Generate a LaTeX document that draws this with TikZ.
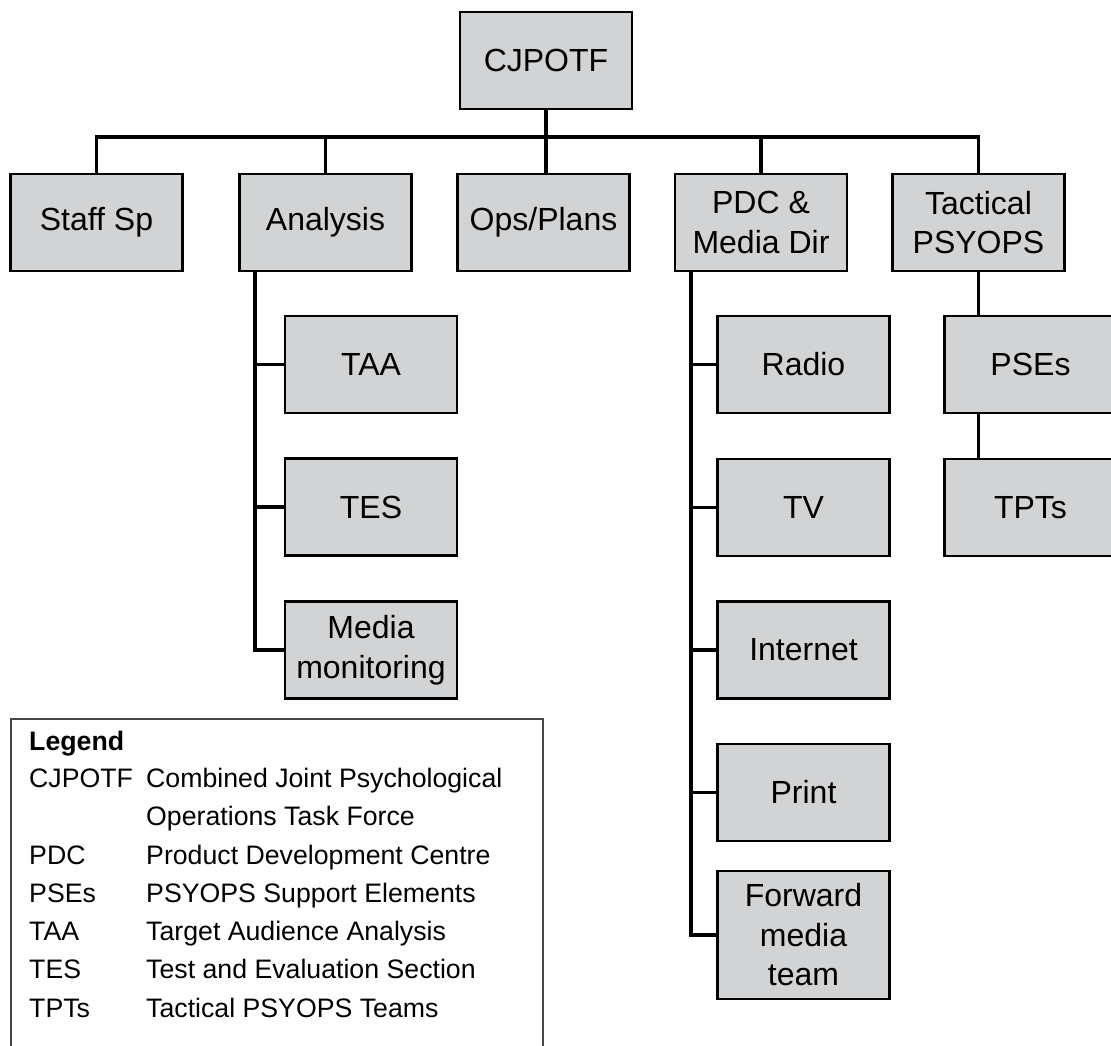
\documentclass[tikz,border=0pt]{standalone}
\usepackage{fontspec}
\setmainfont{Liberation Sans}
\definecolor{boxfill}{RGB}{209,211,213}
\definecolor{legline}{RGB}{70,70,70}
\begin{document}
\begin{tikzpicture}[x=1pt,y=-1pt,
  org/.style={draw=black, line width=2.6pt, fill=boxfill, minimum width=172pt, minimum height=97pt,
    inner sep=0pt, align=center, font=\fontsize{32}{39.5}\selectfont},
  conn/.style={line width=3.6pt, line cap=rect},
  legtext/.style={anchor=base west, inner sep=0pt, font=\fontsize{26.7}{32}\selectfont}]
\useasboundingbox (0,0) rectangle (1111,1045);
\clip (0,0) rectangle (1111,1045);
% top
\node[org] (cj) at (546,60.5) {CJPOTF};
% first row
\node[org] (staff) at (96.5,222.5) {Staff Sp};
\node[org] (ana) at (325.5,222.5) {Analysis};
\node[org] (ops) at (543.5,222.5) {Ops/Plans};
\node[org] (pdc) at (761,222.5) {PDC \&\\Media Dir};
\node[org] (tac) at (978.5,222.5) {Tactical\\PSYOPS};
% analysis branch
\node[org] (taa) at (371,364.5) {TAA};
\node[org] (tes) at (371,507) {TES};
\node[org] (mm) at (371,650) {Media\\monitoring};
% PDC branch
\node[org] (radio) at (803.5,364.5) {Radio};
\node[org] (tv) at (803.5,507.5) {TV};
\node[org] (inet) at (803.5,650) {Internet};
\node[org] (print) at (803.5,792.5) {Print};
\node[org, minimum height=128pt] (fwd) at (803.5,935) {Forward\\media\\team};
% tactical branch
\node[org] (pses) at (1030.5,364.5) {PSEs};
\node[org] (tpts) at (1030.5,507.5) {TPTs};
% connectors
\coordinate (bus) at (0,137);
\draw[conn] (cj.south) -- (cj.south |- ops.north);
\draw[conn, line cap=butt] (staff.north) -- (staff.north |- bus) -- (tac.north |- bus) -- (tac.north);
\draw[conn, line cap=butt] (ana.north |- bus) -- (ana.north);
\draw[conn, line cap=butt] (pdc.north |- bus) -- (pdc.north);
\coordinate (atrunk) at ([xshift=17pt]ana.south west);
\draw[conn, line cap=butt] (atrunk) |- (mm.west);
\draw[conn, line cap=butt] (atrunk |- taa.west) -- (taa.west);
\draw[conn, line cap=butt] (atrunk |- tes.west) -- (tes.west);
\coordinate (ptrunk) at ([xshift=17pt]pdc.south west);
\draw[conn, line cap=butt] (ptrunk) |- (fwd.west);
\draw[conn, line cap=butt] (ptrunk |- radio.west) -- (radio.west);
\draw[conn, line cap=butt] (ptrunk |- tv.west) -- (tv.west);
\draw[conn, line cap=butt] (ptrunk |- inet.west) -- (inet.west);
\draw[conn, line cap=butt] (ptrunk |- print.west) -- (print.west);
\draw[conn, line cap=butt] (tac.south) -- (tac.south |- pses.north);
\draw[conn, line cap=butt] (tac.south |- pses.south) -- (tac.south |- tpts.north);
% legend
\coordinate (legTL) at (11,719);
\coordinate (legTR) at (543,719);
\draw[draw=legline, line width=1.4pt] (legTL |- 0,1050) -- (legTL) -- (legTR) -- (legTR |- 0,1050);
\node[legtext, font=\fontsize{26.7}{32}\selectfont\bfseries] (lgh) at (29,750) {Legend};
\node[legtext] (a1) at (29,787) {CJPOTF};
\node[legtext] (d1) at (146,787) {Combined Joint Psychological};
\node[legtext] (d1b) at (146,825) {Operations Task Force};
\node[legtext] (a2) at (29,864) {PDC};
\node[legtext] (d2) at (146,864) {Product Development Centre};
\node[legtext] (a3) at (29,902) {PSEs};
\node[legtext] (d3) at (146,902) {PSYOPS Support Elements};
\node[legtext] (a4) at (29,940) {TAA};
\node[legtext] (d4) at (146,940) {Target Audience Analysis};
\node[legtext] (a5) at (29,978) {TES};
\node[legtext] (d5) at (146,978) {Test and Evaluation Section};
\node[legtext] (a6) at (29,1017) {TPTs};
\node[legtext] (d6) at (146,1017) {Tactical PSYOPS Teams};
\end{tikzpicture}
\end{document}
